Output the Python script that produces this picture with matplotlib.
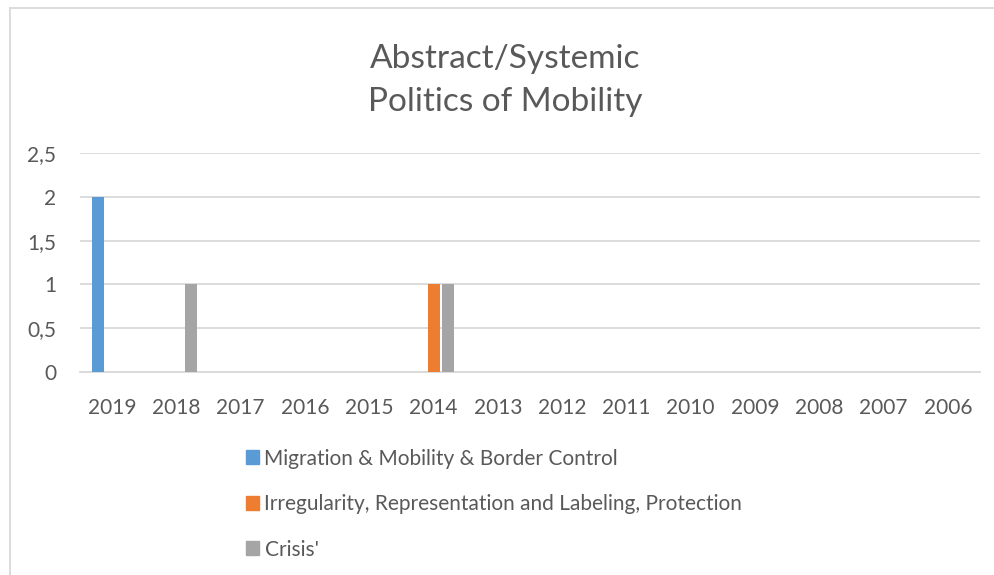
import matplotlib
matplotlib.use("Agg")
import matplotlib.pyplot as plt
from matplotlib.lines import Line2D
from matplotlib.patches import Patch
import numpy as np

years = ["2019", "2018", "2017", "2016", "2015", "2014", "2013",
         "2012", "2011", "2010", "2009", "2008", "2007", "2006"]
migration = [2, 0, 0, 0, 0, 0, 0, 0, 0, 0, 0, 0, 0, 0]
irregularity = [0, 0, 0, 0, 0, 1, 0, 0, 0, 0, 0, 0, 0, 0]
crisis = [0, 1, 0, 0, 0, 1, 0, 0, 0, 0, 0, 0, 0, 0]
series_names = ["Migration & Mobility & Border Control",
                "Irregularity, Representation and Labeling, Protection",
                "Crisis'"]
colors = ["#5B9BD5", "#ED7D31", "#A5A5A5"]

text_col = "#595959"
grid_col = "#D9D9D9"
plt.rcParams['font.family'] = ['Lato', 'DejaVu Sans']

fig = plt.figure(figsize=(9.94, 5.75), dpi=100)
ax = fig.add_axes([80 / 994, 1 - 372 / 575, 900 / 994, 219 / 575])

x = np.arange(len(years))
w = 0.187
step = 0.225
for i, vals in enumerate([migration, irregularity, crisis]):
    ax.bar(x + (i - 1) * step, vals, width=w, color=colors[i], zorder=3)

ax.set_xlim(-0.5, len(years) - 0.5)
ax.set_ylim(0, 2.5)
ax.set_yticks(np.arange(0, 2.51, 0.5))
ax.set_yticklabels([("%g" % v).replace(".", ",") for v in np.arange(0, 2.51, 0.5)])
ax.set_xticks(x)
ax.set_xticklabels(years)
ax.yaxis.grid(True, color=grid_col, lw=1.3, zorder=0)
for s in ["top", "right", "left"]:
    ax.spines[s].set_visible(False)
ax.spines["bottom"].set_color(grid_col)
ax.spines["bottom"].set_linewidth(1.3)
ax.tick_params(axis="both", length=0, labelsize=15, labelcolor=text_col)
ax.tick_params(axis="x", pad=19)
ax.tick_params(axis="y", pad=17)

fig.text(0.508, 0.86, "Abstract/Systemic\nPolitics of Mobility", ha="center", va="center",
         fontsize=24, color=text_col, linespacing=1.52)

handles = [Patch(color=c) for c in colors]
fig.legend(handles, series_names, loc="upper left", bbox_to_anchor=(227 / 994, 1 - 430 / 575),
           frameon=False, fontsize=15, labelcolor=text_col, handlelength=0.65, handleheight=0.65,
           handletextpad=0.25, labelspacing=1.22)

# chart area border (top and left edges visible)
fig.add_artist(Line2D([10 / 994, 10 / 994], [0, 1 - 8 / 575], color=grid_col, lw=1.3))
fig.add_artist(Line2D([10 / 994, 1], [1 - 8 / 575, 1 - 8 / 575], color=grid_col, lw=1.3))

fig.savefig("out.png", dpi=100)
